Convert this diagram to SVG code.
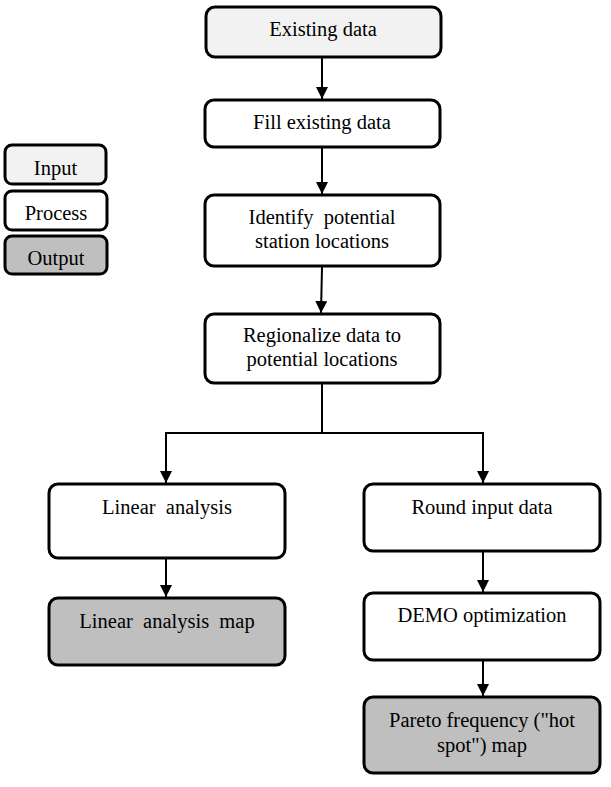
<svg xmlns="http://www.w3.org/2000/svg" width="611" height="787" viewBox="0 0 611 787">
<style>
.b{stroke:#000;stroke-width:3;}
.in{fill:#f2f2f2;}
.pr{fill:#fff;}
.out{fill:#bfbfbf;}
text{font-family:"Liberation Serif","Times New Roman",serif;font-size:20.5px;fill:#000;text-anchor:middle;white-space:pre;}
.c{stroke:#000;stroke-width:2;fill:none;}
</style>
<defs>
<marker id="a" markerWidth="12" markerHeight="12" refX="12" refY="6" orient="auto" markerUnits="userSpaceOnUse" viewBox="0 0 12 12">
<path d="M0,0 L12,6 L0,12 z" fill="#000"/>
</marker>
</defs>
<rect width="611" height="787" fill="#fff"/>
<g id="connectors">
<line class="c" x1="322" y1="58" x2="322" y2="99" marker-end="url(#a)"/>
<line class="c" x1="322" y1="148" x2="322" y2="194" marker-end="url(#a)"/>
<line class="c" x1="322" y1="267" x2="321" y2="313" marker-end="url(#a)"/>
<polyline class="c" points="322,384 322,433 166,433 166,483" marker-end="url(#a)"/>
<polyline class="c" points="322,433 483,433 483,483" marker-end="url(#a)"/>
<line class="c" x1="166" y1="559" x2="166" y2="597" marker-end="url(#a)"/>
<line class="c" x1="483" y1="552" x2="483" y2="592" marker-end="url(#a)"/>
<line class="c" x1="483" y1="661" x2="483" y2="696" marker-end="url(#a)"/>
</g>
<g id="legend-input"><rect class="b in" x="5" y="145" width="101" height="39" rx="7"/><text x="55.5" y="175">Input</text></g>
<g id="legend-process"><rect class="b pr" x="5" y="191" width="102" height="39" rx="7"/><text x="56" y="220">Process</text></g>
<g id="legend-output"><rect class="b out" x="5" y="236" width="102" height="38" rx="7"/><text x="56" y="265">Output</text></g>
<g id="existing"><rect class="b in" x="206" y="7" width="235" height="50" rx="9"/><text x="323" y="36">Existing data</text></g>
<g id="fill"><rect class="b pr" x="205" y="100" width="235" height="47" rx="9"/><text x="322" y="129">Fill existing data</text></g>
<g id="identify"><rect class="b pr" x="205" y="195" width="235" height="71" rx="9"/><text x="322" y="224">Identify  potential</text><text x="322" y="248">station locations</text></g>
<g id="regionalize"><rect class="b pr" x="205" y="314" width="235" height="69" rx="9"/><text x="322" y="342">Regionalize data to</text><text x="322" y="366">potential locations</text></g>
<g id="linear"><rect class="b pr" x="49" y="484" width="236" height="74" rx="9"/><text x="167" y="514">Linear  analysis</text></g>
<g id="linearmap"><rect class="b out" x="49" y="598" width="236" height="67" rx="9"/><text x="167" y="628">Linear  analysis  map</text></g>
<g id="round"><rect class="b pr" x="364" y="484" width="236" height="67" rx="9"/><text x="482" y="514">Round input data</text></g>
<g id="demo"><rect class="b pr" x="364" y="593" width="236" height="67" rx="9"/><text x="482" y="622">DEMO optimization</text></g>
<g id="pareto"><rect class="b out" x="364" y="697" width="236" height="76" rx="9"/><text x="482" y="727">Pareto frequency ("hot</text><text x="482" y="752">spot") map</text></g>
</svg>
